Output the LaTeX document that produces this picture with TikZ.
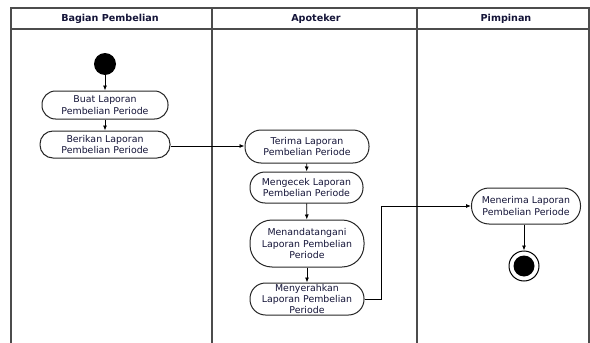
\documentclass[tikz,border=0pt]{standalone}
\usepackage{fontspec}
\setmainfont{DejaVu Sans}
\usetikzlibrary{arrows.meta}
\definecolor{txt}{rgb}{0.08,0.08,0.22}
\begin{document}
\begin{tikzpicture}[x=1pt,y=-1pt,
  lane/.style={draw=black!70, line width=1.2pt},
  acttext/.style={align=center, font=\fontsize{9.4}{11.3}\selectfont, text=txt, inner sep=0pt},
  act/.style n args={3}{draw=black!85, line width=1pt, rectangle, rounded corners=#3,
    minimum width=#1, minimum height=#2, acttext},
  flow/.style={draw=black, line width=0.8pt, -{Latex[length=5pt,width=4pt]}},
  hdr/.style={font=\bfseries\fontsize{9.6}{11}\selectfont, text=txt}]
\useasboundingbox (0,0) rectangle (590,343);
% swimlanes
\draw[lane] (11,343) -- (11,8) -- (589,8) -- (589,343);
\draw[lane] (11,29) -- (589,29);
\draw[lane] (212,8) -- (212,343);
\draw[lane] (417,8) -- (417,343);
\node[hdr] (h1) at (110,19) {Bagian Pembelian};
\node[hdr] (h2) at (316,19) {Apoteker};
\node[hdr] (h3) at (506,19) {Pimpinan};
% nodes
\node[circle, fill=black, minimum size=22pt, inner sep=0] (start) at (105,64) {};
\node[act={126pt}{28pt}{13.5pt}] (buat) at (105,105) {Buat Laporan\\Pembelian Periode};
\node[act={130pt}{27pt}{13pt}] (berikan) at (105,144.5) {Berikan Laporan\\Pembelian Periode};
\node[act={124pt}{33pt}{16pt}] (terima) at (307,146.5) {Terima Laporan\\Pembelian Periode};
\node[act={113pt}{31pt}{15pt}] (cek) at (306.5,187.5) {Mengecek Laporan\\Pembelian Periode};
\node[act={114pt}{47pt}{22pt}] (tanda) at (307,243.5) {Menandatangani\\Laporan Pembelian\\Periode};
\node[act={114pt}{32pt}{15.5pt}] (serah) at (307,299) {};
\node[acttext] (serahtxt) at (serah.center) {Menyerahkan\\Laporan Pembelian\\Periode};
\node[act={109pt}{36pt}{17.5pt}] (terima2) at (526,206) {Menerima Laporan\\Pembelian Periode};
\node[circle, draw=black, line width=1pt, minimum size=30pt, inner sep=0] (end) at (524,266) {};
\fill[black] (end.center) circle (10.5pt);
% connectors
\draw[flow] (start) -- (buat);
\draw[flow] (buat) -- (berikan);
\draw[flow] ([yshift=-1.5pt]berikan.east) -- ([yshift=-1.5pt]berikan.east -| terima.west);
\draw[flow] (terima) -- (cek);
\draw[flow] (cek) -- (tanda);
\draw[flow] (tanda) -- (serah);
\coordinate (c1) at (381,299);
\draw[flow] (serah.east) -- (c1) |- (terima2.west);
\draw[flow] (terima2.south -| end) -- (end);
\end{tikzpicture}
\end{document}
